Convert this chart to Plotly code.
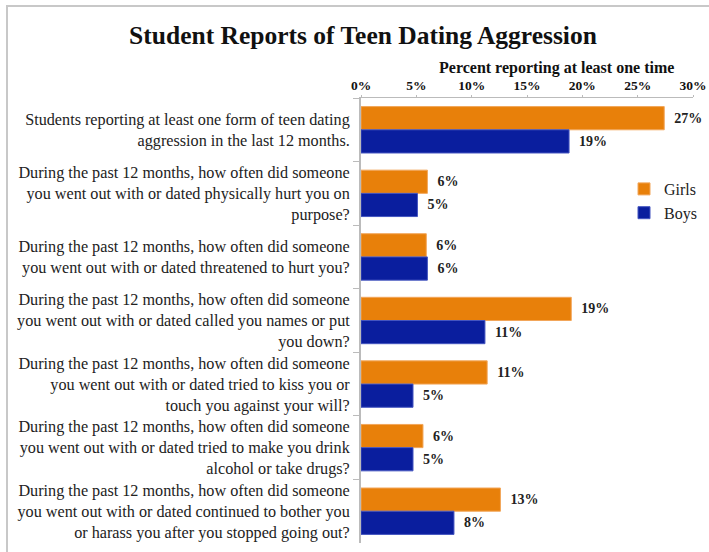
import plotly.graph_objects as go

categories = [
    "Students reporting at least one form of teen dating<br>aggression in the last 12 months.",
    "During the past 12 months, how often did someone<br>you went out with or dated physically hurt you on<br>purpose?",
    "During the past 12 months, how often did someone<br>you went out with or dated threatened to hurt you?",
    "During the past 12 months, how often did someone<br>you went out with or dated called you names or put<br>you down?",
    "During the past 12 months, how often did someone<br>you went out with or dated tried to kiss you or<br>touch you against your will?",
    "During the past 12 months, how often did someone<br>you went out with or dated tried to make you drink<br>alcohol or take drugs?",
    "During the past 12 months, how often did someone<br>you went out with or dated continued to bother you<br>or harass you after you stopped going out?",
]
girls = [27.4, 6.0, 5.9, 19.0, 11.4, 5.6, 12.6]
boys = [18.8, 5.1, 6.0, 11.2, 4.7, 4.7, 8.4]
girls_labels = ["27%", "6%", "6%", "19%", "11%", "6%", "13%"]
boys_labels = ["19%", "5%", "6%", "11%", "5%", "5%", "8%"]
x_ticks = [0, 5, 10, 15, 20, 25, 30]
x_tick_text = ["0%", "5%", "10%", "15%", "20%", "25%", "30%"]

SERIF = "Liberation Serif, Times New Roman, serif"
NB = "\u00a0\u00a0"

fig = go.Figure()
fig.add_trace(go.Bar(
    name="Girls", y=categories, x=girls, orientation="h",
    marker=dict(color="#E8800A", line=dict(color="#F2A65A", width=1)),
    text=["<b>" + NB + t + "</b>" for t in girls_labels], textposition="outside",
    textfont=dict(family=SERIF, size=14, color="#222222"),
    cliponaxis=False, constraintext="none",
))
fig.add_trace(go.Bar(
    name="Boys", y=categories, x=boys, orientation="h",
    marker=dict(color="#0A1E9E", line=dict(color="#4455C0", width=1)),
    text=["<b>" + NB + t + "</b>" for t in boys_labels], textposition="outside",
    textfont=dict(family=SERIF, size=14, color="#222222"),
    cliponaxis=False, constraintext="none",
))

fig.update_layout(
    width=709, height=552,
    margin=dict(l=361, r=16, t=98, b=9, autoexpand=False),
    paper_bgcolor="white", plot_bgcolor="white",
    barmode="group", bargap=0.27, bargroupgap=0,
    font=dict(family=SERIF, color="#222222"),
    title=dict(text="<b>Student Reports of Teen Dating Aggression</b>",
               x=363 / 709, xanchor="center", y=1 - 35 / 552, yanchor="middle",
               font=dict(family=SERIF, size=25.5, color="#111111")),
    legend=dict(x=(624 - 361) / 332, xanchor="left", y=1 - (172 - 98) / 445, yanchor="top",
                font=dict(family=SERIF, size=16, color="#222222"),
                bgcolor="rgba(0,0,0,0)", traceorder="normal",
                itemwidth=30, tracegroupgap=2),
    showlegend=True,
    xaxis=dict(side="top", range=[0, 30], tickvals=x_ticks,
               ticktext=["<b>" + t + "</b>" for t in x_tick_text], automargin=False,
               showgrid=False, zeroline=False, showline=True, linecolor="#BBBBBB", linewidth=1,
               ticks="outside", ticklen=2, tickcolor="#BBBBBB",
               tickfont=dict(family=SERIF, size=13.5, color="#111111"), fixedrange=True),
    yaxis=dict(autorange="reversed", showgrid=False, showline=True, linecolor="#BBBBBB", linewidth=2,
               ticks="outside", ticklen=6, tickcolor="#BBBBBB", tickson="boundaries",
               ticklabelstandoff=6, automargin=False,
               tickfont=dict(family=SERIF, size=16.2, color="#222222")),
    annotations=[dict(text="<b>Percent reporting at least one time</b>", xref="paper", yref="paper",
                      x=(556 - 361) / 332, y=1 + (98 - 68) / 445, xanchor="center", yanchor="middle",
                      showarrow=False, font=dict(family=SERIF, size=16, color="#111111"))],
    shapes=[dict(type="rect", xref="paper", yref="paper",
                 x0=-(361 - 7) / 332, x1=1 + 30 / 332, y0=-30 / 445, y1=1 + (98 - 6) / 445,
                 line=dict(color="#C8C8C8", width=2), layer="below")],
)

fig.write_html("out.html", config={"displayModeBar": False},
               post_script="document.body.style.margin='0px';document.body.style.overflow='hidden';")
